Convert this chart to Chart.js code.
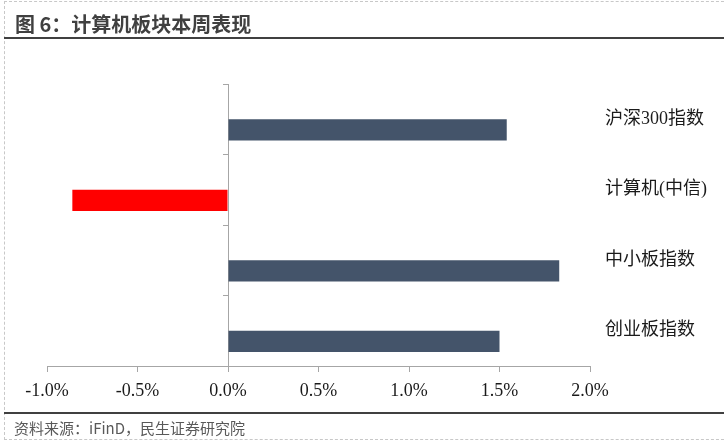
<!DOCTYPE html>
<html>
<head>
<meta charset="utf-8">
<script src="https://cdn.jsdelivr.net/npm/chart.js@4"></script>
<style>
  html, body { margin: 0; padding: 0; background: #fff; }
  #wrap { position: relative; width: 724px; height: 442px; overflow: hidden; }
  #frame { position: absolute; left: 4px; top: 1px; width: 730px; height: 439px; border-left: 1px dashed #c8c8c8; border-top: 1px dashed #c8c8c8; border-bottom: 1px dashed #c8c8c8; box-sizing: border-box; }
  #title { position: absolute; left: 15px; top: 10px; font: bold 20px "Noto Sans CJK SC", sans-serif; color: #404040; line-height: 28px; white-space: nowrap; }
  #line1 { position: absolute; left: 4px; top: 37px; width: 720px; height: 2px; background: #404040; }
  #line2 { position: absolute; left: 4px; top: 412px; width: 720px; height: 2px; background: #404040; }
  #source { position: absolute; left: 14px; top: 417px; font: 15px "Noto Sans CJK SC", sans-serif; color: #595959; line-height: 22px; white-space: nowrap; }
  canvas { position: absolute; left: 0; top: 0; }
</style>
</head>
<body>
<div id="wrap">
  <div id="frame"></div>
  <canvas id="c" width="724" height="442"></canvas>
  <div id="title">图 6：计算机板块本周表现</div>
  <div id="line1"></div>
  <div id="line2"></div>
  <div id="source">资料来源：iFinD，民生证券研究院</div>
</div>
<script>
const categories = ['沪深300指数', '计算机(中信)', '中小板指数', '创业板指数'];
const weeklyReturn = [1.54, -0.86, 1.83, 1.50];
const spacerSeries = [null, null, null, null];
const barColors = ['#44546A', '#FF0000', '#44546A', '#44546A'];
const xTickValues = [-1.0, -0.5, 0.0, 0.5, 1.0, 1.5, 2.0];

const axisColor = '#a6a6a6';

new Chart(document.getElementById('c'), {
  type: 'bar',
  data: {
    labels: categories,
    datasets: [
      { label: 'spacer', data: spacerSeries, backgroundColor: 'rgba(0,0,0,0)', yAxisID: 'y' },
      { label: '本周涨跌幅', data: weeklyReturn, backgroundColor: barColors, borderWidth: 0, yAxisID: 'y' }
    ]
  },
  options: {
    indexAxis: 'y',
    responsive: false,
    animation: false,
    devicePixelRatio: 1,
    categoryPercentage: 0.6,
    barPercentage: 1.0,
    layout: { padding: { left: 47, right: 14, top: 84, bottom: 42 } },
    plugins: { legend: { display: false }, tooltip: { enabled: false }, title: { display: false } },
    scales: {
      x: {
        type: 'linear',
        position: 'bottom',
        min: -1.0,
        max: 2.0,
        afterBuildTicks: (s) => { s.ticks = xTickValues.map(v => ({ value: v })); },
        afterFit: (s) => { s.height = 34; },
        ticks: {
          padding: 8,
          color: '#1a1a1a',
          font: { family: '"Liberation Serif", "Times New Roman", serif', size: 18 },
          callback: (v) => Number(v).toFixed(1) + '%'
        },
        grid: { display: true, drawOnChartArea: false, drawTicks: true, tickLength: 6, color: axisColor },
        border: { display: true, color: axisColor, width: 1 }
      },
      y: {
        type: 'category',
        position: { x: 0 },
        offset: true,
        ticks: { display: false },
        grid: { display: true, offset: true, drawOnChartArea: false, drawTicks: true, tickLength: 5, color: axisColor },
        border: { display: true, color: axisColor, width: 1 }
      },
      y2: {
        type: 'category',
        position: 'right',
        offset: true,
        labels: categories,
        afterFit: (s) => { s.width = 120; },
        ticks: {
          padding: 15,
          color: '#1a1a1a',
          font: { family: '"Liberation Serif", "Noto Sans CJK SC", serif', size: 18 }
        },
        grid: { display: false, drawTicks: false, tickLength: 0 },
        border: { display: false }
      }
    }
  }
});
</script>
</body>
</html>
